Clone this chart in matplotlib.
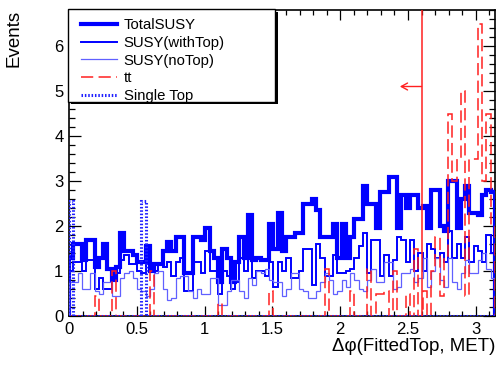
import numpy as np
import matplotlib.pyplot as plt
from matplotlib.lines import Line2D
from matplotlib.patches import Rectangle

plt.rcParams['font.family'] = ['Liberation Sans', 'DejaVu Sans']

# 100 bins from 0 to pi
nbins = 100
edges = np.linspace(0, np.pi, nbins + 1)

total_susy = [
    1.3, 1.6, 1.6, 1.25, 1.7, 1.7, 1.1, 1.3, 1.6, 1.05,
    0.8, 1.1, 1.85, 1.45, 1.45, 1.35, 1.2, 1.2, 1.55, 1.0,
    1.15, 1.15, 1.45, 1.65, 1.45, 1.75, 1.75, 0.95, 0.95, 1.75,
    1.75, 1.7, 1.95, 1.45, 1.3, 0.75, 1.5, 1.3, 0.75, 1.2,
    1.75, 1.3, 2.25, 1.25, 1.3, 1.25, 1.25, 2.05, 1.5, 2.3,
    1.45, 1.75, 1.75, 1.85, 1.85, 2.5, 2.5, 2.6, 2.35, 1.75,
    1.75, 1.75, 2.05, 1.3, 2.05, 1.3, 1.75, 2.15, 2.15, 2.9,
    2.5, 2.5, 1.95, 2.75, 2.75, 3.1, 3.1, 1.95, 2.7, 2.4,
    2.7, 2.7, 2.4, 2.45, 1.95, 2.8, 2.8, 2.0, 1.9, 3.0,
    3.0, 1.95, 2.6, 2.9, 2.3, 2.3, 2.25, 2.7, 2.8, 2.75,
]

susy_with_top = [
    1.0, 1.2, 1.2, 1.0, 1.25, 1.25, 0.6, 0.85, 0.6, 0.6,
    0.9, 0.95, 1.25, 1.35, 1.15, 1.15, 1.0, 0.95, 1.2, 1.0,
    1.0, 1.15, 1.1, 1.2, 0.9, 1.2, 1.3, 0.55, 0.55, 1.2,
    1.2, 0.95, 1.45, 1.0, 1.0, 0.5, 1.0, 0.9, 0.6, 0.75,
    1.3, 1.0, 1.3, 0.85, 1.0, 1.0, 0.9, 1.2, 0.65, 1.2,
    1.0, 1.3, 0.85, 0.85, 1.0, 1.5, 1.5, 0.7, 1.6, 1.3,
    0.9, 0.9, 1.35, 0.95, 0.95, 1.0, 1.05, 1.3, 1.55, 1.85,
    0.95, 1.7, 1.7, 0.9, 1.35, 0.9, 1.25, 1.75, 1.7, 1.2,
    1.7, 1.0, 1.4, 1.0, 1.6, 1.5, 1.3, 1.4, 1.2, 1.9,
    1.3, 1.6, 1.3, 1.75, 1.2, 1.55, 1.45, 1.2, 1.8, 1.4,
]

susy_no_top = [
    0.75, 0.75, 0.95, 0.6, 0.6, 0.95, 0.55, 0.5, 0.75, 0.75,
    0.45, 0.45, 0.85, 0.95, 1.0, 0.85, 0.6, 0.55, 0.45, 0.6,
    0.95, 1.0, 0.6, 0.35, 0.4, 0.85, 0.9, 0.9, 0.55, 0.4,
    0.6, 0.5, 0.5, 0.85, 0.85, 0.25, 0.25, 0.55, 0.8, 0.8,
    0.55, 0.4, 0.85, 0.7, 1.0, 0.95, 1.05, 0.8, 0.75, 0.75,
    0.45, 0.6, 0.95, 0.95, 0.6, 0.55, 0.4, 0.4, 0.55, 0.75,
    0.95, 0.8, 0.5, 0.55, 0.8, 0.65, 0.95, 0.8, 0.6, 0.55,
    0.8, 1.05, 0.75, 0.75, 1.2, 1.2, 0.6, 0.65, 0.95, 0.95,
    1.05, 0.75, 0.85, 1.3, 0.65, 1.0, 1.3, 0.8, 0.65, 1.3,
    0.75, 0.6, 0.95, 1.25, 0.95, 0.95, 1.25, 1.4, 1.05, 0.85,
]

ttbar = [
    0, 0, 0, 0, 0, 0, 0.45, 0, 0, 0,
    1.0, 0, 0, 0, 0, 0, 0, 0, 0, 1.0,
    0, 0, 0, 0, 0, 0, 0, 0, 0, 0,
    0, 0, 0, 0, 0, 0.3, 0, 0, 0, 0,
    0, 0, 0, 0, 0, 0, 0, 0.55, 0, 0,
    0, 0, 0, 0, 0, 0, 0, 0, 0, 0,
    1.05, 0, 0, 0, 0, 0, 0.55, 0, 0, 0,
    1.05, 0, 0.5, 0.5, 0.55, 0, 1.0, 0, 0, 0.5,
    0, 1.5, 0, 0.55, 0, 1.0, 1.75, 0.45, 1.3, 4.5,
    3.0, 3.5, 5.0, 0.45, 3.5, 3.5, 6.5, 3.0, 4.5, 2.0,
]

single_top = [0.0] * nbins
single_top[0] = 2.55
single_top[17] = 2.55

cut_value = 2.6
arrow_y = 5.1

fig = plt.figure(figsize=(4.98, 3.66), dpi=100)
ax = fig.add_axes([69 / 498, 1 - 316 / 366, 426 / 498, 306 / 366])

ax.stairs(total_susy, edges, color='#0000ff', lw=3.0, zorder=3)
ax.stairs(susy_with_top, edges, color='#0000ff', lw=1.4, zorder=4)
ax.stairs(susy_no_top, edges, color='#6060ff', lw=0.9, zorder=4)
ax.stairs(ttbar, edges, color='#ff2020', lw=1.1, ls=(0, (8, 3.5)), zorder=5)
ax.stairs(single_top, edges, color='#2020ff', lw=2.2, ls=(0, (0.5, 0.6)), zorder=5)

# cut line and arrow
ax.axvline(cut_value, color='#ff2020', lw=1.1, zorder=6)
ax.annotate('', xy=(cut_value - 0.16, arrow_y), xytext=(cut_value, arrow_y),
            arrowprops=dict(arrowstyle='->,head_length=0.45,head_width=0.25',
                            color='#ff2020', lw=1.0, shrinkA=0, shrinkB=0))

ax.set_xlim(0, np.pi)
ax.set_ylim(0, 6.8)
ax.set_xticks([0, 0.5, 1, 1.5, 2, 2.5, 3])
ax.set_xticklabels(['0', '0.5', '1', '1.5', '2', '2.5', '3'])
ax.set_xticks(np.arange(0, 3.15, 0.1), minor=True)
ax.set_yticks(range(7))
ax.set_yticks(np.arange(0, 6.81, 0.2), minor=True)

ax.tick_params(which='both', direction='in', top=True, right=True, width=0.9, labelsize=12)
ax.tick_params(axis='x', which='major', length=7, pad=4.5)
ax.tick_params(axis='x', which='minor', length=3.5)
ax.tick_params(axis='y', which='major', length=8.5, pad=4)
ax.tick_params(axis='y', which='minor', length=4.5)
for s in ax.spines.values():
    s.set_linewidth(1.2)

ax.set_xlabel('Δφ(FittedTop, MET)', fontsize=13.5, loc='right')
ax.xaxis.set_label_coords(1.0, -0.072)
ax.set_ylabel('Events', fontsize=13.5, loc='top')
ax.yaxis.set_label_coords(-0.11, 1.0)

# legend box with ROOT-like shadow
fig.patches.append(Rectangle((71 / 498, 1 - 104 / 366), 207 / 498, 92 / 366,
                             transform=fig.transFigure, facecolor='black',
                             edgecolor='none', zorder=2))
fig.patches.append(Rectangle((68 / 498, 1 - 101.5 / 366), 207 / 498, 92 / 366,
                             transform=fig.transFigure, facecolor='white',
                             edgecolor='black', lw=1.0, zorder=3))

handles = [
    Line2D([], [], color='#0000ff', lw=3.0),
    Line2D([], [], color='#0000ff', lw=1.4),
    Line2D([], [], color='#6060ff', lw=0.9),
    Line2D([], [], color='#ff2020', lw=1.1, ls=(0, (8, 3.5))),
    Line2D([], [], color='#2020ff', lw=2.2, ls=(0, (0.5, 0.6))),
]
labels = ['TotalSUSY', 'SUSY(withTop)', 'SUSY(noTop)', 'tt', 'Single Top']
leg = fig.legend(handles, labels, loc='upper left',
                 bbox_to_anchor=(73 / 498, 1 - 10 / 366), frameon=False,
                 fontsize=10.7, handlelength=2.4, handletextpad=0.45,
                 labelspacing=0.25, borderpad=0.05)
leg.set_zorder(4)

fig.savefig('out.png', dpi=100)
